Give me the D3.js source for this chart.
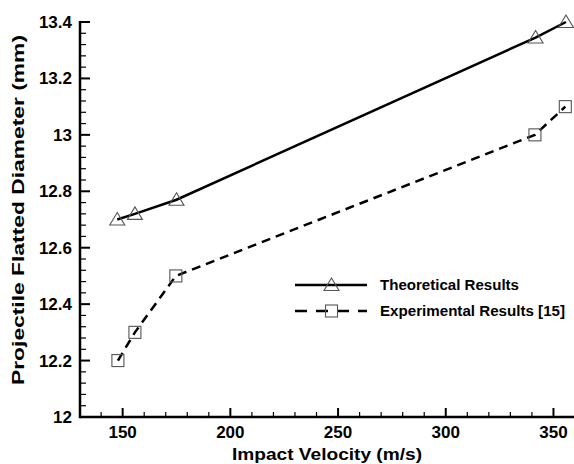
<!DOCTYPE html>
<html><head><meta charset="utf-8">
<script src="https://cdn.jsdelivr.net/npm/d3@7"></script>
<style>body{margin:0;background:#fff}svg{display:block}text{font-family:"Liberation Sans",Arial,sans-serif;font-weight:bold}</style>
</head><body><svg id="c" width="574" height="464"></svg>
<script>
const theoVel = [147.5, 155.7, 175, 341.7, 355.8];
const theoDia = [12.70, 12.72, 12.77, 13.345, 13.40];
const expVel = [147.8, 155.7, 174.7, 341.4, 355.5];
const expDia = [12.20, 12.30, 12.50, 13.00, 13.10];
const xTicks = [150, 200, 250, 300, 350];
const yTicks = [12, 12.2, 12.4, 12.6, 12.8, 13, 13.2, 13.4];
const yTickLabels = ["12", "12.2", "12.4", "12.6", "12.8", "13", "13.2", "13.4"];
const seriesNames = ["Theoretical Results", "Experimental Results [15]"];

const svg = d3.select("#c");
const x = d3.scaleLinear().domain([130.2, 360]).range([80, 575]);
const y = d3.scaleLinear().domain([12, 13.4]).range([417, 22]);

// minor ticks
const xMinor = d3.range(140, 360, 10).filter(v => !xTicks.includes(v));
const yMinor = d3.range(0, 36).map(i => +(12 + i * 0.04).toFixed(2)).filter(v => !yTicks.some(t => Math.abs(t - v) < 1e-6));

const g = svg.append("g");
// x axis
g.append("line").attr("x1", 80).attr("x2", 574).attr("y1", y(12)).attr("y2", y(12)).attr("stroke", "#000").attr("stroke-width", 2.5);
g.append("line").attr("x1", 80).attr("x2", 80).attr("y1", y(12) + 1.2).attr("y2", y(13.4) - 1).attr("stroke", "#000").attr("stroke-width", 2.5);
g.selectAll(".xt").data(xTicks).enter().append("line").attr("x1", d => x(d)).attr("x2", d => x(d)).attr("y1", y(12)).attr("y2", y(12) - 9).attr("stroke", "#000").attr("stroke-width", 2);
g.selectAll(".xm").data(xMinor).enter().append("line").attr("x1", d => x(d)).attr("x2", d => x(d)).attr("y1", y(12)).attr("y2", y(12) - 5).attr("stroke", "#000").attr("stroke-width", 1.2);
g.selectAll(".yt").data(yTicks).enter().append("line").attr("x1", 80).attr("x2", 90).attr("y1", d => y(d)).attr("y2", d => y(d)).attr("stroke", "#000").attr("stroke-width", 2);
g.selectAll(".ym").data(yMinor).enter().append("line").attr("x1", 80).attr("x2", 86).attr("y1", d => y(d)).attr("y2", d => y(d)).attr("stroke", "#000").attr("stroke-width", 1.2);

g.selectAll(".xl").data(xTicks).enter().append("text").attr("x", d => x(d)).attr("y", y(12) + 21).attr("text-anchor", "middle").attr("font-size", 17).text(d => d);
g.selectAll(".yl").data(yTicks).enter().append("text").attr("x", 72).attr("y", d => y(d) + 6).attr("text-anchor", "end").attr("font-size", 17).text((d, i) => yTickLabels[i]);

svg.append("text").attr("x", 327).attr("y", 460).attr("text-anchor", "middle").attr("font-size", 17).attr("textLength", 190).attr("lengthAdjust", "spacingAndGlyphs").text("Impact Velocity (m/s)");
svg.append("text").attr("transform", "translate(24,210) rotate(-90)").attr("text-anchor", "middle").attr("font-size", 17).attr("textLength", 350).attr("lengthAdjust", "spacingAndGlyphs").text("Projectile Flatted Diameter (mm)");

const theo = theoVel.map((v, i) => [v, theoDia[i]]);
const expt = expVel.map((v, i) => [v, expDia[i]]);
const line = d3.line().x(d => x(d[0])).y(d => y(d[1]));
svg.append("path").attr("d", line(theo)).attr("fill", "none").attr("stroke", "#000").attr("stroke-width", 2.5);
svg.append("path").attr("d", line(expt)).attr("fill", "none").attr("stroke", "#000").attr("stroke-width", 2.5).attr("stroke-dasharray", "9,6");

const tri = d3.symbol().type(d3.symbolTriangle).size(70);
function triangle(sel, cx, cy) {
  sel.append("path").attr("d", `M${cx},${cy - 7}L${cx + 7.5},${cy + 5.5}L${cx - 7.5},${cy + 5.5}Z`).attr("fill", "none").attr("stroke", "#555").attr("stroke-width", 1.1);
}
function square(sel, cx, cy) {
  sel.append("rect").attr("x", cx - 6).attr("y", cy - 6).attr("width", 12).attr("height", 12).attr("fill", "none").attr("stroke", "#555").attr("stroke-width", 1.1);
}
theo.forEach(d => triangle(svg, x(d[0]), y(d[1])));
expt.forEach(d => square(svg, x(d[0]), y(d[1])));

// legend
const lg = svg.append("g");
lg.append("line").attr("x1", 295).attr("x2", 367).attr("y1", 285).attr("y2", 285).attr("stroke", "#000").attr("stroke-width", 2.5);
triangle(lg, 331.5, 285);
lg.append("line").attr("x1", 295).attr("x2", 367).attr("y1", 311).attr("y2", 311).attr("stroke", "#000").attr("stroke-width", 2.5).attr("stroke-dasharray", "12,9");
square(lg, 331.5, 311);
lg.append("text").attr("x", 380).attr("y", 290).attr("font-size", 14).attr("textLength", 139).attr("lengthAdjust", "spacingAndGlyphs").text(seriesNames[0]);
lg.append("text").attr("x", 380).attr("y", 316).attr("font-size", 14).attr("textLength", 185).attr("lengthAdjust", "spacingAndGlyphs").text(seriesNames[1]);
</script></body></html>
